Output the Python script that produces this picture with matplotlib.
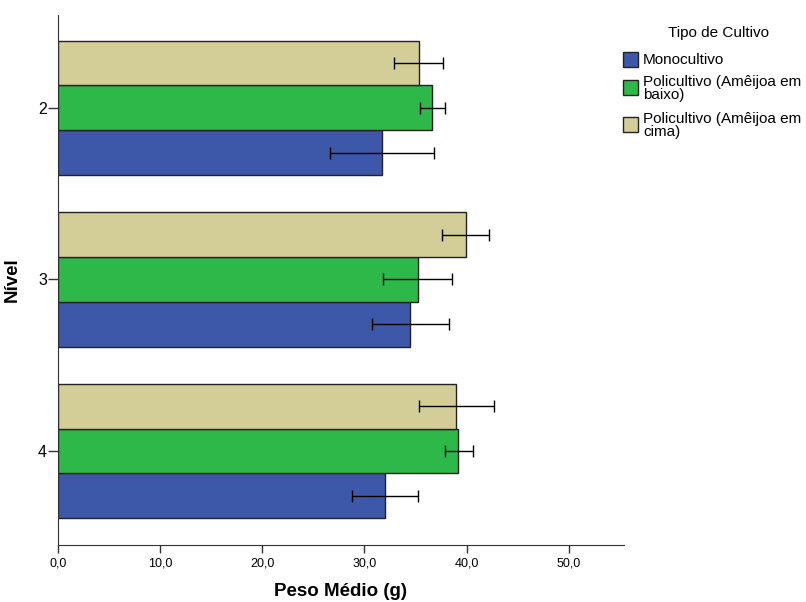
import numpy as np
import matplotlib
matplotlib.use("Agg")
import matplotlib.pyplot as plt
from matplotlib.patches import Rectangle

plt.rcParams['font.family'] = ['Liberation Sans', 'DejaVu Sans']

# data
niveis = ['2', '3', '4']
series = ['Monocultivo', 'Policultivo (Amêijoa em\nbaixo)', 'Policultivo (Amêijoa em\ncima)']
cores = ['#3D58A9', '#2EB84A', '#D3CE98']

mono = [31.7, 34.5, 32.0]
mono_lo = [26.6, 30.7, 28.8]
mono_hi = [36.8, 38.3, 35.2]

baixo = [36.65, 35.2, 39.2]
baixo_lo = [35.4, 31.8, 37.9]
baixo_hi = [37.9, 38.6, 40.6]

cima = [35.3, 39.9, 39.0]
cima_lo = [32.9, 37.6, 35.3]
cima_hi = [37.7, 42.2, 42.7]

fig = plt.figure(figsize=(8.06, 6.02), dpi=100)
ax = fig.add_axes([58/806, 57/602, (624-58)/806, (545-15)/602])

pos = np.arange(len(niveis))
h = 0.262
# blue at bottom of each group, beige on top (y axis inverted)
grupos = [(mono, mono_lo, mono_hi, h), (baixo, baixo_lo, baixo_hi, 0), (cima, cima_lo, cima_hi, -h)]
for (vals, lo, hi, off), cor in zip(grupos, cores):
    vals = np.array(vals)
    err = [vals - np.array(lo), np.array(hi) - vals]
    ax.barh(pos + off, vals, height=h, color=cor, edgecolor='#222222', linewidth=1)
    ax.errorbar(vals, pos + off, xerr=err, fmt='none', ecolor='black',
                elinewidth=1, capsize=4, capthick=1)

ax.set_xlim(0, 55.4)
ax.set_ylim(2.548, -0.542)
ax.set_yticks(pos)
ax.set_yticklabels(niveis)
ax.set_xticks([0, 10, 20, 30, 40, 50])
ax.set_xticklabels(['0,0', '10,0', '20,0', '30,0', '40,0', '50,0'])
ax.tick_params(axis='x', labelsize=9, length=6, width=1, color='#333333', pad=3)
ax.tick_params(axis='y', labelsize=11.5, length=7.5, width=1, color='#333333', pad=0.5)
for s in ['top', 'right']:
    ax.spines[s].set_visible(False)
for s in ['left', 'bottom']:
    ax.spines[s].set_color('#333333')

ax.set_xlabel('Peso Médio (g)', fontsize=13.5, fontweight='bold', labelpad=10)
ax.set_ylabel('Nível', fontsize=13.5, fontweight='bold', labelpad=12)

# legend drawn by hand to follow the SPSS layout
W, H = 806, 602
fig.text(719/W, 1 - 33/H, 'Tipo de Cultivo', fontsize=11, ha='center', va='center')
centros = [59, 87.5, 124.5]  # vertical centre (pixels) of each legend entry
for nome, cor, cy in zip(series, cores, centros):
    fig.patches.append(Rectangle((623/W, 1 - (cy + 7.5)/H), 15/W, 15/H,
                                 transform=fig.transFigure, facecolor=cor,
                                 edgecolor='#222222', linewidth=1))
    fig.text(643/W, 1 - (cy + 1)/H, nome, fontsize=11, ha='left', va='center',
             linespacing=0.98)

fig.savefig('out.png', dpi=100)
